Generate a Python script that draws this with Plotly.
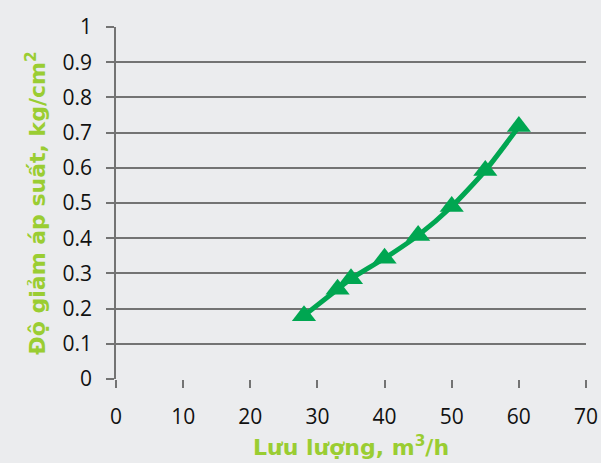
import plotly.graph_objects as go

flow = [28, 33, 35, 40, 45, 50, 55, 60]
pressure_drop = [0.18, 0.255, 0.285, 0.343, 0.408, 0.49, 0.592, 0.717]

green = "#00a651"
title_green = "#9acd32"
grid = "#737373"
bg = "#ebecee"

fig = go.Figure()
fig.add_trace(go.Scatter(
    x=flow, y=pressure_drop, mode="lines+markers",
    line=dict(color=green, width=5, shape="spline", smoothing=0.6),
    marker=dict(symbol="triangle-up", size=21, color=green),
    showlegend=False,
))

title_font = dict(size=22, color=title_green, family="DejaVu Sans, sans-serif", weight="bold")

fig.update_layout(
    width=601, height=463,
    margin=dict(l=116, r=15, t=27, b=84),
    paper_bgcolor=bg, plot_bgcolor=bg,
    font=dict(family="Open Sans, sans-serif", size=21, color="#111111"),
)
fig.update_xaxes(
    range=[0, 70], dtick=10, tick0=0,
    showgrid=False, zeroline=False, showline=False,
    ticks="outside", ticklen=8, tickcolor=grid, tickwidth=1.5,
    ticklabelstandoff=11,
    automargin=False,
    title=dict(text="Lưu lượng, m<sup>3</sup>/h", font=title_font, standoff=10),
)
fig.update_yaxes(
    range=[0, 1], dtick=0.1, tick0=0,
    showgrid=True, gridcolor=grid, gridwidth=1.5,
    zeroline=False,
    showline=True, linecolor=grid, linewidth=1.5,
    ticks="outside", ticklen=8, tickcolor=grid, tickwidth=1.5,
    ticklabelstandoff=10,
    automargin=False,
    title=dict(text="Độ giảm áp suất, kg/cm<sup>2</sup>", font=title_font, standoff=11),
)

fig.write_html(
    "out.html",
    config={"displayModeBar": False},
    post_script="document.body.style.margin='0';document.body.style.overflow='hidden';",
)
